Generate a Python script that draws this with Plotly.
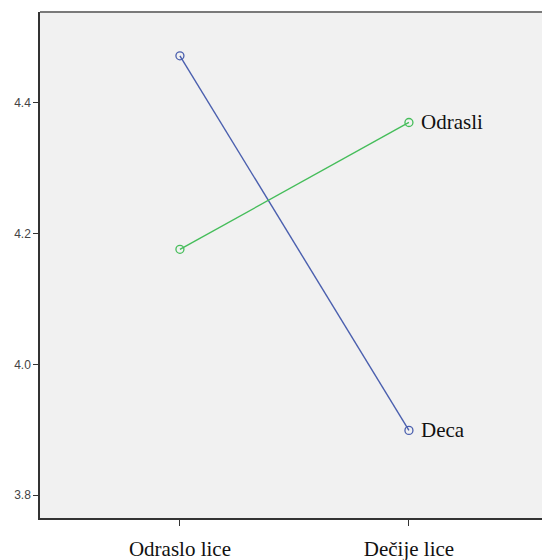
import plotly.graph_objects as go

categories = ["Odraslo lice", "Dečije lice"]
deca = [4.472, 3.899]
odrasli = [4.176, 4.370]
y_ticks = [3.8, 4.0, 4.2, 4.4]
y_ticktext = ["3.8", "4.0", "4.2", "4.4"]

fig = go.Figure()
fig.add_trace(go.Scatter(
    x=categories, y=deca, mode="lines+markers", name="Deca",
    line=dict(color="#4a5fae", width=1.4),
    marker=dict(symbol="circle-open", size=8, color="#4a5fae", line=dict(width=1.3)),
))
fig.add_trace(go.Scatter(
    x=categories, y=odrasli, mode="lines+markers", name="Odrasli",
    line=dict(color="#45bd5a", width=1.4),
    marker=dict(symbol="circle-open", size=8, color="#45bd5a", line=dict(width=1.3)),
))

for name, vals in (("Deca", deca), ("Odrasli", odrasli)):
    fig.add_annotation(
        x=categories[-1], y=vals[-1], text=name, showarrow=False,
        xanchor="left", yanchor="middle", xshift=10,
        font=dict(family="Liberation Serif, Times New Roman, serif", size=21, color="#111111"),
    )

# top border of the plot frame (lighter gray, like the reference)
fig.add_shape(type="line", xref="paper", yref="paper", x0=0, x1=1, y0=1, y1=1,
              line=dict(color="#7a7a7a", width=2))

fig.update_layout(
    width=542, height=560,
    margin=dict(l=40, r=0, t=12, b=42),
    paper_bgcolor="white", plot_bgcolor="#f1f1f1",
    showlegend=False,
    xaxis=dict(
        type="category", range=[-0.611, 1.581],
        showgrid=False, zeroline=False,
        showline=True, linecolor="#333333", linewidth=1.5,
        ticks="outside", ticklen=6, tickcolor="#333333", tickwidth=1,
        ticklabelstandoff=5,
        tickfont=dict(family="Liberation Serif, Times New Roman, serif", size=21, color="#111111"),
    ),
    yaxis=dict(
        range=[3.765, 4.539],
        tickvals=y_ticks, ticktext=y_ticktext,
        showgrid=False, zeroline=False,
        showline=True, linecolor="#333333", linewidth=1.5,
        ticks="outside", ticklen=5, tickcolor="#333333", tickwidth=1,
        tickfont=dict(family="Liberation Sans, Arial, sans-serif", size=12, color="#444444"),
    ),
)

fig.write_html(
    "out.html",
    config={"displayModeBar": False},
    post_script="document.body.style.margin='0px';document.body.style.overflow='hidden';",
)
